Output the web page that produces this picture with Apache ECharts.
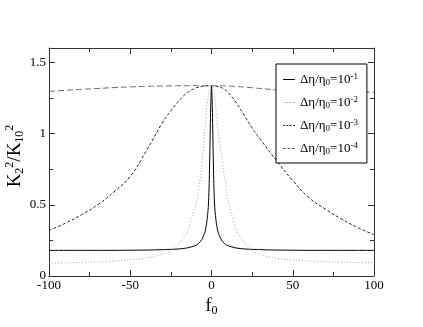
<!DOCTYPE html>
<html>
<head>
<meta charset="utf-8">
<script src="https://cdn.jsdelivr.net/npm/echarts@6/dist/echarts.min.js"></script>
<style>
  html, body { margin: 0; padding: 0; background: #fff; }
  #chart { width: 423px; height: 327px; }
</style>
</head>
<body>
<div id="chart"></div>
<script>
// f0 sample points (denser near the peak)
var fGrid = [-100, -90, -80, -70, -60, -50, -40, -30, -25, -20, -15, -10, -8, -6, -4, -3, -2, -1.5, -1, -0.5, 0,
             0.5, 1, 1.5, 2, 3, 4, 6, 8, 10, 15, 20, 25, 30, 40, 50, 60, 70, 80, 90, 100];

// K2^2/K10^2, one array per curve
var ratio1 = [0.18, 0.18, 0.18, 0.18, 0.18, 0.181, 0.182, 0.185, 0.187, 0.19, 0.197, 0.213, 0.228, 0.255, 0.31, 0.37, 0.48, 0.62, 0.88, 1.18, 1.335,
              1.18, 0.88, 0.62, 0.48, 0.37, 0.31, 0.255, 0.228, 0.213, 0.197, 0.19, 0.187, 0.185, 0.182, 0.181, 0.18, 0.18, 0.18, 0.18, 0.18];
var ratio2 = [0.09, 0.092, 0.095, 0.098, 0.104, 0.113, 0.127, 0.155, 0.18, 0.225, 0.31, 0.49, 0.6, 0.77, 1.04, 1.17, 1.26, 1.3, 1.32, 1.333, 1.335,
              1.333, 1.32, 1.3, 1.25, 1.15, 1.02, 0.86, 0.7, 0.55, 0.33, 0.24, 0.18, 0.15, 0.125, 0.112, 0.104, 0.1, 0.097, 0.095, 0.094];
var ratio3 = [0.32, 0.37, 0.43, 0.5, 0.59, 0.7, 0.88, 1.08, 1.16, 1.23, 1.285, 1.318, 1.325, 1.33, 1.333, 1.334, 1.335, 1.335, 1.335, 1.335, 1.335,
              1.335, 1.335, 1.335, 1.334, 1.332, 1.33, 1.322, 1.31, 1.29, 1.22, 1.13, 1.04, 0.96, 0.81, 0.67, 0.55, 0.47, 0.4, 0.34, 0.29];
var ratio4 = [1.295, 1.303, 1.31, 1.316, 1.322, 1.327, 1.331, 1.333, 1.334, 1.335, 1.335, 1.336, 1.336, 1.336, 1.336, 1.336, 1.336, 1.336, 1.336, 1.336, 1.336,
              1.336, 1.336, 1.336, 1.336, 1.336, 1.335, 1.335, 1.334, 1.333, 1.33, 1.326, 1.321, 1.316, 1.306, 1.3, 1.296, 1.293, 1.291, 1.29, 1.29];

var curveNames = ['1e-1', '1e-2', '1e-3', '1e-4'];
var exponents = { '1e-1': '-1', '1e-2': '-2', '1e-3': '-3', '1e-4': '-4' };

// legend line samples, drawn as little rectangles (12 x 1)
var legendIcons = {
    '1e-1': 'path://M0,0h12v1h-12z',
    '1e-2': 'path://M0,0h1v1h-1z M2,0h1v1h-1z M4,0h1v1h-1z M6,0h1v1h-1z M8,0h1v1h-1z M10,0h1v1h-1z M11,0h1v1h-1z',
    '1e-3': 'path://M0,0h2v1h-2z M3.3,0h2v1h-2z M6.6,0h2v1h-2z M10,0h2v1h-2z',
    '1e-4': 'path://M0,0h3v1h-3z M4.5,0h3v1h-3z M9,0h3v1h-3z'
};

function pairs(ys) {
    var out = [];
    for (var i = 0; i < fGrid.length; i++) out.push([fGrid[i], ys[i]]);
    return out;
}

var chart = echarts.init(document.getElementById('chart'));
var serif = 'Liberation Serif';
var frame = '#333';

function makeSeries(name, ys, color, type, smooth) {
    return {
        name: name,
        type: 'line',
        data: pairs(ys),
        showSymbol: false,
        symbol: 'none',
        smooth: smooth,
        animation: false,
        lineStyle: { color: color, width: 1, type: type },
        itemStyle: { color: color }
    };
}

function sideAxis(extra) {
    var ax = {
        type: 'value',
        axisLine: { show: true, onZero: false, lineStyle: { color: frame, width: 1 } },
        axisTick: { inside: true, length: 6, lineStyle: { color: frame } },
        minorTick: { show: true, splitNumber: 2, length: 4, lineStyle: { color: frame } },
        axisLabel: { show: false },
        splitLine: { show: false }
    };
    for (var k in extra) ax[k] = extra[k];
    return ax;
}

var option = {
    animation: false,
    grid: { left: 49, right: 49, top: 48, bottom: 51, outerBoundsMode: 'none', containLabel: false },
    // y axis title, rotated
    graphic: [{
        type: 'text',
        x: 15,
        y: 156,
        rotation: Math.PI / 2,
        style: {
            text: 'K{sub|2}{sup|2}/K{sub|10}{sup|2}',
            fontFamily: serif, fontSize: 19, fill: '#000',
            align: 'center', verticalAlign: 'middle',
            rich: {
                sub: { fontFamily: serif, fontSize: 12, verticalAlign: 'bottom', padding: [10, 0, 0, 0] },
                sup: { fontFamily: serif, fontSize: 12, verticalAlign: 'top', padding: [0, 0, 10, 0] }
            }
        }
    }],
    legend: {
        orient: 'vertical',
        left: 276,
        top: 64,
        padding: [8, 9, 7, 7],
        itemGap: 8,
        itemWidth: 12,
        itemHeight: 1,
        backgroundColor: '#fff',
        borderColor: '#000',
        borderWidth: 1,
        borderRadius: 0,
        data: curveNames.map(function (n) { return { name: n, icon: legendIcons[n] }; }),
        formatter: function (n) {
            return 'Δη/η{sub|0}=10{sup|' + exponents[n] + '}';
        },
        textStyle: {
            fontFamily: serif, fontSize: 13, color: '#000',
            rich: {
                sub: { fontFamily: serif, fontSize: 9, verticalAlign: 'bottom', padding: [6, 0, 0, 0] },
                sup: { fontFamily: serif, fontSize: 9, verticalAlign: 'top', padding: [0, 0, 6, 0] }
            }
        }
    },
    xAxis: [
        sideAxis({
            min: -100, max: 100, interval: 50, position: 'bottom',
            name: 'f{sub|0}', nameLocation: 'middle', nameGap: 14,
            nameTextStyle: {
                fontFamily: serif, fontSize: 18, color: '#000',
                rich: { sub: { fontFamily: serif, fontSize: 12, verticalAlign: 'bottom', padding: [10, 0, 0, 0] } }
            },
            axisLabel: { fontFamily: serif, fontSize: 13, color: '#000', margin: 3 }
        }),
        sideAxis({ min: -100, max: 100, interval: 50, position: 'top' })
    ],
    yAxis: [
        sideAxis({
            min: 0, max: 1.6, interval: 0.5, position: 'left',
            axisLabel: { fontFamily: serif, fontSize: 13, color: '#000', margin: 3, showMaxLabel: false }
        }),
        sideAxis({ min: 0, max: 1.6, interval: 0.5, position: 'right' })
    ],
    series: [
        makeSeries('1e-1', ratio1, '#000', 'solid', 0.25),
        makeSeries('1e-2', ratio2, '#aaa', [1, 2], 0.3),
        makeSeries('1e-3', ratio3, '#222', [3, 2], 0.5),
        makeSeries('1e-4', ratio4, '#666', [6, 3], 0.5)
    ]
};

chart.setOption(option);
</script>
</body>
</html>
